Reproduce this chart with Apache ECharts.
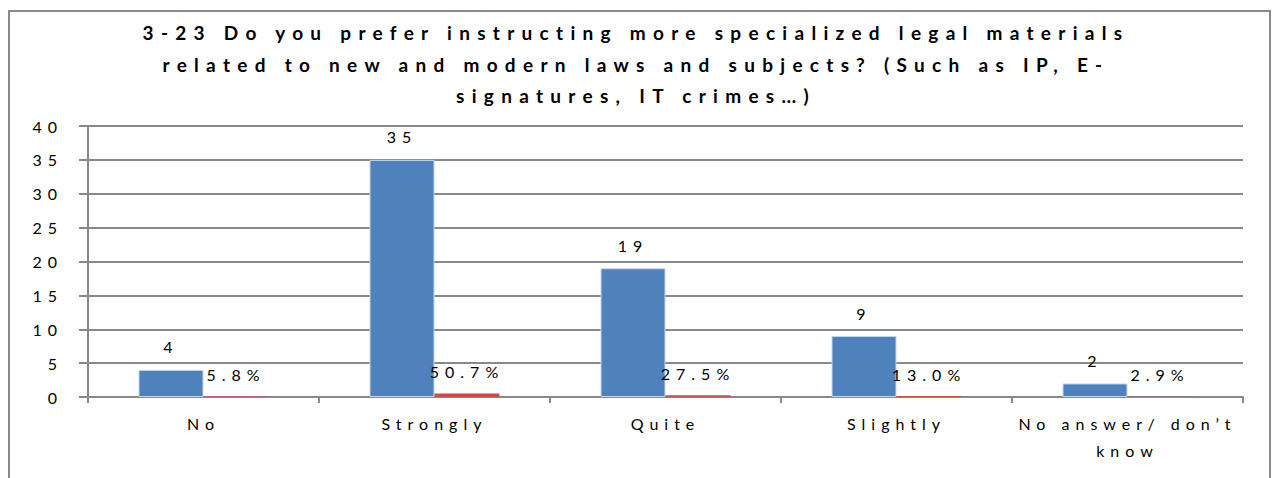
<!DOCTYPE html>
<html>
<head>
<meta charset="utf-8">
<script src="https://cdn.jsdelivr.net/npm/echarts@6/dist/echarts.min.js"></script>
<style>
  html, body { margin: 0; padding: 0; background: #fff; }
  #chart { width: 1272px; height: 478px; }
  #chart svg text { letter-spacing: 6px; }
  #chart svg text.title-text { letter-spacing: 7.3px; }
</style>
</head>
<body>
<div id="chart"></div>
<script>
const titleLines = [
  '3-23 Do you prefer instructing more specialized legal materials',
  'related to new and modern laws and subjects? (Such as IP, E-',
  'signatures, IT crimes…)'
];
const categories = ['No', 'Strongly', 'Quite', 'Slightly', 'No answer/ don’t know'];
const counts = [4, 35, 19, 9, 2];
const shares = [0.058, 0.507, 0.275, 0.130, 0.029];
const yTicks = { min: 0, max: 40, interval: 5 };

const FONT = 'Lato';
const GRAY = '#898989';

const chart = echarts.init(document.getElementById('chart'), null, { renderer: 'svg' });
chart.setOption({
  animation: false,
  backgroundColor: '#ffffff',
  textStyle: { fontFamily: FONT },
  graphic: [{
    type: 'rect',
    shape: { x: 9, y: 11, width: 1261, height: 520 },
    style: { fill: 'none', stroke: GRAY, lineWidth: 2 },
    silent: true
  }],
  title: {
    text: titleLines.join('\n'),
    left: 'center',
    top: 12,
    textStyle: { fontFamily: FONT, fontSize: 19, fontWeight: 'bold', color: '#000', lineHeight: 31.5 }
  },
  grid: { left: 88, right: 29, top: 126, bottom: 81, containLabel: false },
  xAxis: {
    type: 'category',
    data: categories,
    axisLine: { lineStyle: { color: GRAY, width: 2 } },
    axisTick: { show: true, length: 6, lineStyle: { color: GRAY, width: 2 } },
    axisLabel: {
      fontFamily: FONT, fontSize: 16, color: '#000', margin: 13, lineHeight: 27,
      formatter: v => v.replace(' know', '\nknow')
    },
    splitLine: { show: false }
  },
  yAxis: {
    type: 'value',
    min: yTicks.min, max: yTicks.max, interval: yTicks.interval,
    axisLine: { show: true, lineStyle: { color: GRAY, width: 2 } },
    axisTick: { show: true, length: 9, lineStyle: { color: GRAY, width: 2 } },
    axisLabel: { fontFamily: FONT, fontSize: 16, color: '#000', margin: 25 },
    splitLine: { show: true, lineStyle: { color: GRAY, width: 2 } }
  },
  series: [{
    type: 'bar',
    name: 'Count',
    data: counts,
    barWidth: 65,
    barGap: '0%',
    itemStyle: { color: '#4F81BD', borderColor: '#c9d6e8', borderWidth: 1 },
    label: { show: true, position: 'top', distance: 15, fontFamily: FONT, fontSize: 16, color: '#000' }
  }, {
    type: 'bar',
    name: 'Percent',
    data: shares,
    barWidth: 65,
    barGap: '0%',
    itemStyle: { color: '#C0504D' },
    label: {
      show: true, position: 'top', distance: 14, fontFamily: FONT, fontSize: 16, color: '#000',
      formatter: p => (p.value * 100).toFixed(1) + '%'
    }
  }]
});

function tagTitle() {
  const texts = document.querySelectorAll('#chart svg text');
  texts.forEach(t => {
    const s = t.textContent;
    if (titleLines.some(l => l === s)) t.classList.add('title-text');
  });
}
chart.on('finished', tagTitle);
tagTitle();
</script>
</body>
</html>
